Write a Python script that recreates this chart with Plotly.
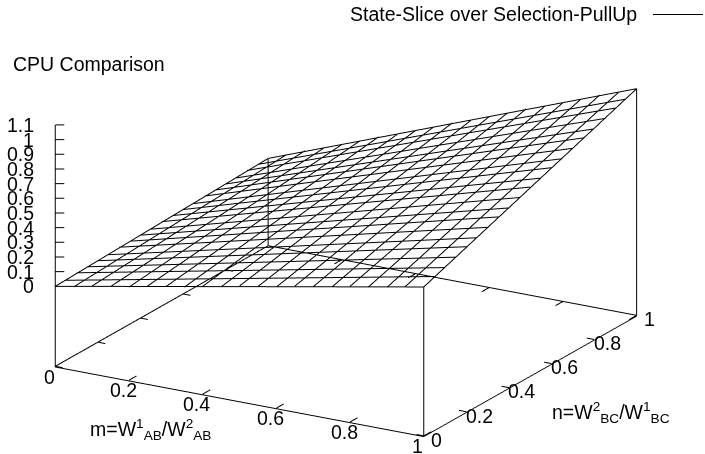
import math
import plotly.graph_objects as go

# Grid positions of the wireframe iso-lines (21 samples per axis)
grid = [0.00, 0.05, 0.10, 0.15, 0.20, 0.25, 0.30, 0.35, 0.40, 0.45, 0.50,
        0.55, 0.60, 0.65, 0.70, 0.75, 0.80, 0.85, 0.90, 0.95, 1.00]

# Surface height read along the four edges of the wireframe
z_front = [0.00, 0.02, 0.05, 0.07, 0.09, 0.12, 0.14, 0.16, 0.19, 0.21, 0.24,
           0.26, 0.28, 0.31, 0.33, 0.35, 0.38, 0.40, 0.42, 0.45, 0.47]   # n = 0, along m
z_back = [0.05, 0.10, 0.15, 0.19, 0.24, 0.29, 0.34, 0.38, 0.43, 0.48, 0.53,
          0.57, 0.62, 0.67, 0.72, 0.76, 0.81, 0.86, 0.91, 0.95, 1.00]    # n = 1, along m
z_left = [0.00, 0.00, 0.01, 0.01, 0.01, 0.01, 0.02, 0.02, 0.02, 0.02, 0.03,
          0.03, 0.03, 0.03, 0.04, 0.04, 0.04, 0.04, 0.05, 0.05, 0.05]    # m = 0, along n
z_right = [0.47, 0.50, 0.52, 0.55, 0.58, 0.60, 0.63, 0.66, 0.68, 0.71, 0.74,
           0.76, 0.79, 0.81, 0.84, 0.87, 0.89, 0.92, 0.95, 0.97, 1.00]   # m = 1, along n

m_ticks = [0, 0.2, 0.4, 0.6, 0.8, 1]
m_labels = ["0", "0.2", "0.4", "0.6", "0.8", "1"]
n_ticks = [0, 0.2, 0.4, 0.6, 0.8, 1]
n_labels = ["0", "0.2", "0.4", "0.6", "0.8", "1"]
z_ticks = [0, 0.1, 0.2, 0.3, 0.4, 0.5, 0.6, 0.7, 0.8, 0.9, 1.0, 1.1]
z_labels = ["0", "0.1", "0.2", "0.3", "0.4", "0.5", "0.6", "0.7", "0.8", "0.9", "1", "1.1"]

m_range = [0, 1]
n_range = [0, 1]
z_range = [-0.55, 1.1]   # gnuplot ticslevel 0.5 below z = 0
series_name = "State-Slice over Selection-PullUp"
title_text = "CPU Comparison"
m_title = "m=W<sup>1</sup><sub>AB</sub>/W<sup>2</sup><sub>AB</sub>"
n_title = "n=W<sup>2</sup><sub>BC</sub>/W<sup>1</sup><sub>BC</sub>"

FONT = "Liberation Sans, Arial, Helvetica, sans-serif"
FS = 19.5
LW = 2

# camera (orthographic, gnuplot-like default view)
ex, ey, ez = 0.4725, -0.818, 0.327
d = 2.0
SC = 1.93   # scene scale

# wireframe: iso-lines of constant m and of constant n
xs, ys, zs = [], [], []
for k, m in enumerate(grid):
    xs += [m, m, None]
    ys += [n_range[0], n_range[1], None]
    zs += [z_front[k], z_back[k], None]
for k, n in enumerate(grid):
    xs += [m_range[0], m_range[1], None]
    ys += [n, n, None]
    zs += [z_left[k], z_right[k], None]

m0, m1 = m_range
n0, n1 = n_range
# base level, nudged just inside the z range so the border is not clipped
zb = z_range[0] + 0.003 * (z_range[1] - z_range[0])

# vertical lines from the base to the four corners of the surface
corners = [(m0, n0, z_front[0]), (m1, n0, z_front[-1]), (m1, n1, z_back[-1]), (m0, n1, z_back[0])]
vx, vy, vz = [], [], []
for cx, cy, cz in corners:
    vx += [cx, cx, None]
    vy += [cy, cy, None]
    vz += [zb, cz, None]
# back edges of the base
bx = [m0, m0, m1]
by = [n0, n1, n1]
bz = [zb, zb, zb]

# tick marks (pointing into the box, mirrored on the back base edges)
tm = 0.035 * (n1 - n0)   # length of m ticks, along n
tn = 0.02 * (m1 - m0)    # length of n ticks, along m
rx, ry = -ey, ex
rn = math.hypot(rx, ry)
tz = 0.021
tzx, tzy = tz * rx / rn, tz * ry / rn
tx, ty, tzz = [], [], []
for m in m_ticks:
    tx += [m, m, None, m, m, None]
    ty += [n0, n0 + tm, None, n1, n1 - tm, None]
    tzz += [zb, zb, None, zb, zb, None]
for n in n_ticks:
    tx += [m1, m1 - tn, None, m0, m0 + tn, None]
    ty += [n, n, None, n, n, None]
    tzz += [zb, zb, None, zb, zb, None]
for z in z_ticks:
    tx += [m0, m0 + tzx, None]
    ty += [n0, n0 + tzy, None]
    tzz += [z, z, None]

fig = go.Figure()
line = dict(color="black", width=LW)
fig.add_trace(go.Scatter3d(x=xs, y=ys, z=zs, mode="lines", line=line,
                           name=series_name, showlegend=False, hoverinfo="skip"))
fig.add_trace(go.Scatter3d(x=vx, y=vy, z=vz, mode="lines", line=line,
                           showlegend=False, hoverinfo="skip"))
fig.add_trace(go.Scatter3d(x=bx, y=by, z=bz, mode="lines", line=line,
                           showlegend=False, hoverinfo="skip"))
fig.add_trace(go.Scatter3d(x=tx, y=ty, z=tzz, mode="lines", line=line,
                           showlegend=False, hoverinfo="skip"))

def axis(rng, tv):
    return dict(range=rng, tickvals=tv, autorange=False,
                showbackground=False, showgrid=False, zeroline=False,
                showspikes=False, showline=True, linecolor="black", linewidth=LW,
                ticks="", showticklabels=False, mirror=False,
                title=dict(text=""))

tfont = dict(family=FONT, size=FS, color="black")
zl = z_range[0]
ann3d = []
for m, lab in zip(m_ticks, m_labels):
    ann3d.append(dict(x=m, y=n0, z=zl, text=lab, showarrow=False, xanchor="center",
                      yanchor="middle", xshift=-6, yshift=-9.5, font=tfont))
for n, lab in zip(n_ticks, n_labels):
    ann3d.append(dict(x=m1, y=n, z=zl, text=lab, showarrow=False, xanchor="center",
                      yanchor="middle", xshift=13, yshift=-3, font=tfont))
for z, lab in zip(z_ticks, z_labels):
    ann3d.append(dict(x=m0, y=n0, z=z, text=lab, showarrow=False, xanchor="right",
                      yanchor="middle", xshift=-19, yshift=0, font=tfont))
ann3d.append(dict(x=(m0 + m1) / 2, y=n0, z=zl, text=m_title, showarrow=False,
                  xanchor="center", yanchor="middle", xshift=-89.5, yshift=-28, font=tfont))
ann3d.append(dict(x=m1, y=(n0 + n1) / 2, z=zl, text=n_title, showarrow=False,
                  xanchor="center", yanchor="middle", xshift=80.5, yshift=-36, font=tfont))

fig.update_layout(
    width=705, height=454,
    margin=dict(l=0, r=0, t=0, b=0),
    paper_bgcolor="white",
    font=dict(family=FONT, size=FS, color="black"),
    scene=dict(
        domain=dict(x=[0.0, 0.9816], y=[0.0286, 1.0]),
        xaxis=axis(m_range, m_ticks),
        yaxis=axis(n_range, n_ticks),
        zaxis=axis(z_range, z_ticks),
        aspectmode="manual",
        aspectratio=dict(x=1 * SC, y=1 * SC, z=0.602 * SC),
        camera=dict(projection=dict(type="orthographic"),
                    eye=dict(x=ex * d, y=ey * d, z=ez * d),
                    center=dict(x=0, y=0, z=0), up=dict(x=0, y=0, z=1)),
        dragmode=False,
        annotations=ann3d,
    ),
    annotations=[
        dict(text=title_text, x=11 / 705, y=1 - 64 / 454, xref="paper", yref="paper",
             xanchor="left", yanchor="middle", showarrow=False, font=tfont),
        dict(text=series_name, x=639 / 705, y=1 - 14 / 454, xref="paper", yref="paper",
             xanchor="right", yanchor="middle", showarrow=False, font=tfont),
    ],
    shapes=[dict(type="line", xref="paper", yref="paper",
                 x0=653 / 705, x1=703 / 705, y0=1 - 14.5 / 454, y1=1 - 14.5 / 454,
                 line=dict(color="black", width=1))],
)

fig.write_html("out.html")
